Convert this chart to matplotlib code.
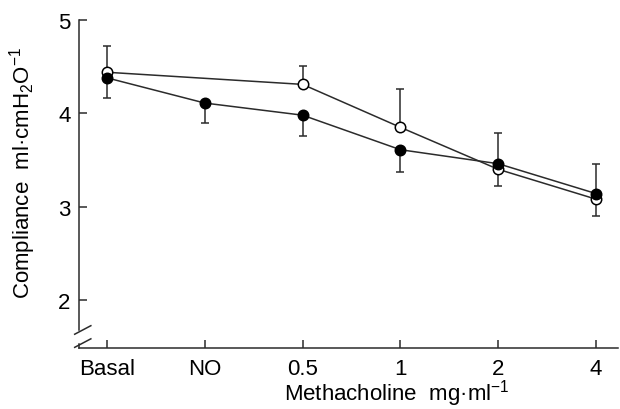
import numpy as np
import matplotlib
matplotlib.use("Agg")
import matplotlib.pyplot as plt
from matplotlib.lines import Line2D

plt.rcParams['font.family'] = ['Liberation Sans', 'DejaVu Sans']

# data
labels = ['Basal', 'NO', '0.5', '1', '2', '4']

open_x = [0, 2, 3, 4, 5]
open_y = [4.44, 4.31, 3.85, 3.40, 3.08]
open_err_lo = [0.0, 0.0, 0.0, 0.18, 0.18]
open_err_hi = [0.28, 0.20, 0.41, 0.0, 0.0]

filled_x = [0, 1, 2, 3, 4, 5]
filled_y = [4.38, 4.11, 3.98, 3.61, 3.46, 3.14]
filled_err_lo = [0.22, 0.21, 0.22, 0.24, 0.0, 0.0]
filled_err_hi = [0.0, 0.0, 0.0, 0.0, 0.33, 0.32]

ink = '#2b2b2b'
fs = 16

fig = plt.figure(figsize=(6.2, 4.1), dpi=100)
ax = fig.add_axes([79/620, 1 - 349/410, 539/620, 328/410])

ax.errorbar(open_x, open_y, yerr=[open_err_lo, open_err_hi], color=ink, lw=1.1,
            marker='o', ms=7.5, mfc='white', mec='black', mew=1.1,
            ecolor=ink, elinewidth=1.1, capsize=3, capthick=1.1, zorder=3)
ax.errorbar(filled_x, filled_y, yerr=[filled_err_lo, filled_err_hi], color=ink, lw=1.1,
            marker='o', ms=7.5, mfc='black', mec='black', mew=1.1,
            ecolor=ink, elinewidth=1.1, capsize=3, capthick=1.1, zorder=4)

ax.set_xlim(-0.286, 5.225)
ax.set_ylim(1.485, 5.0)
ax.set_xticks(range(len(labels)))
ax.set_xticklabels(labels)
ax.set_yticks([2, 3, 4, 5])
ax.tick_params(direction='in', length=6, width=1.1, color=ink, labelsize=fs)
ax.tick_params(axis='x', pad=7)
ax.tick_params(axis='y', pad=6)

for s in ['top', 'right']:
    ax.spines[s].set_visible(False)
for s in ['left', 'bottom']:
    ax.spines[s].set_color(ink)
    ax.spines[s].set_linewidth(1.1)
ax.spines['left'].set_bounds(1.678, 5.0)

# axis break marks
tr = ax.transAxes
for yc in [0.055, 0.015]:
    ax.add_line(Line2D([-0.008, 0.022], [yc - 0.013, yc + 0.013], transform=tr,
                       color=ink, lw=1.1, clip_on=False))
ax.add_line(Line2D([0, 0], [0, 0.012], transform=tr, color=ink, lw=1.1, clip_on=False))

ax.set_ylabel('Compliance  ml\u00b7cmH$_\\mathregular{2}$O$^\\mathregular{-1}$', fontsize=fs)
ax.yaxis.set_label_coords(-0.104, 0.536)
ax.yaxis.label.set_va('center')
ax.set_xlabel('Methacholine  mg\u00b7ml$^\\mathregular{-1}$', fontsize=fs)
ax.xaxis.set_label_coords(0.59, -0.183)
ax.xaxis.label.set_va('bottom')

fig.savefig('out.png', dpi=100, facecolor='white')
